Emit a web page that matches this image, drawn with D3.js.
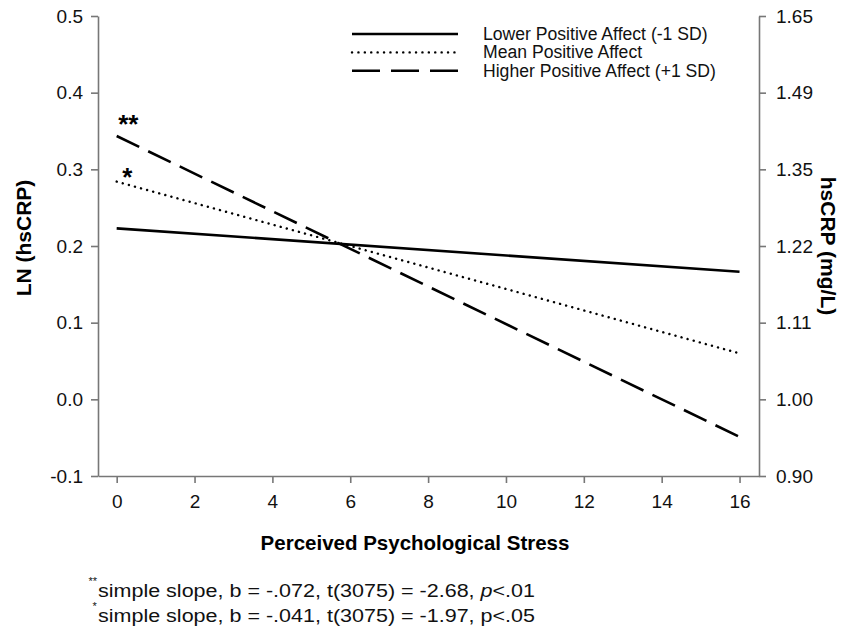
<!DOCTYPE html>
<html>
  <head>
    <style>
      body { margin: 0; background: #fff; }
      svg { font-family: "Liberation Sans", Arial, sans-serif; }
      .axis path, .axis line { stroke: #777; stroke-width: 1.6; }
      .axis text { fill: #111; }
    </style>
  </head>
  <body>
    <svg></svg>
    <script src="https://d3js.org/d3.v7.min.js"></script>
    <script type="text/javascript">

      // stress values at the two ends of each simple-slope line
      var stress = [0, 16]
      var lowerPA = [0.223, 0.1665]
      var meanPA = [0.284, 0.060]
      var higherPA = [0.3435, -0.049]

      var seriesNames = ["Lower Positive Affect (-1 SD)", "Mean Positive Affect", "Higher Positive Affect (+1 SD)"]
      var xTicks = [0, 2, 4, 6, 8, 10, 12, 14, 16]
      var yTicks = [-0.1, 0, 0.1, 0.2, 0.3, 0.4, 0.5]

      // significance marks, placed at (stress, LN value) of the glyph centre
      var marks = [
        { label: "**", x: 0.30, y: 0.367 },
        { label: "*", x: 0.27, y: 0.298 }
      ]
      var notes = [
        { star: "**", text: "simple slope, b = -.072, t(3075) = -2.68, ", p: "p", tail: "<.01", italic: true },
        { star: "*", text: "simple slope, b = -.041, t(3075) = -1.97, ", p: "p", tail: "<.05", italic: false }
      ]

      var svgWidth = 842, svgHeight = 631
      var margin = { top: 16, right: 83, bottom: 155, left: 98 }
      var width = svgWidth - margin.left - margin.right
      var height = svgHeight - margin.top - margin.bottom

      var svg = d3.select("svg")
        .attr("width", svgWidth)
        .attr("height", svgHeight)

      var g = svg.append("g")
        .attr("transform", "translate(" + margin.left + "," + margin.top + ")")

      var x = d3.scaleLinear().domain([-0.48, 16.5]).range([0, width])
      var y = d3.scaleLinear().domain([-0.1, 0.5]).range([height, 0])

      g.append("g")
        .attr("class", "axis")
        .attr("transform", "translate(0," + height + ")")
        .call(d3.axisBottom(x).tickValues(xTicks).tickSize(7).tickSizeOuter(0).tickPadding(12))

      g.append("g")
        .attr("class", "axis")
        .call(d3.axisLeft(y).tickValues(yTicks).tickSize(7).tickSizeOuter(0).tickPadding(8)
          .tickFormat(d => d.toFixed(1)))

      // right axis: same scale, shown back on the mg/L scale
      g.append("g")
        .attr("class", "axis")
        .attr("transform", "translate(" + width + ",0)")
        .call(d3.axisRight(y).tickValues(yTicks).tickSize(7).tickSizeOuter(0).tickPadding(10)
          .tickFormat(d => Math.exp(d).toFixed(2)))

      g.selectAll(".axis")
        .attr("font-family", "Liberation Sans, Arial, sans-serif")
        .attr("font-size", 19)

      var line = d3.line()
        .x((d, i) => x(stress[i]))
        .y(d => y(d))

      var styles = [
        { data: lowerPA, dash: null, width: 2.6, cap: "butt" },
        { data: meanPA, dash: "0.1 6.2", width: 2.4, cap: "round" },
        { data: higherPA, dash: "25 10", width: 2.6, cap: "butt" }
      ]

      styles.forEach(s => {
        g.append("path")
          .attr("d", line(s.data))
          .attr("fill", "none")
          .attr("stroke", "#000")
          .attr("stroke-width", s.width)
          .attr("stroke-linecap", s.cap)
          .attr("stroke-dasharray", s.dash)
      })

      g.selectAll(".mark")
        .data(marks)
        .join("text")
        .attr("class", "mark")
        .attr("x", d => x(d.x))
        .attr("y", d => y(d.y) + 26 * 0.57)
        .attr("text-anchor", "middle")
        .attr("font-size", 26)
        .attr("font-weight", "bold")
        .text(d => d.label)

      // legend
      var legend = svg.append("g").attr("transform", "translate(352,34)")
      var dashes = [null, "0.1 6.3", "28 11"]
      seriesNames.forEach((name, i) => {
        legend.append("line")
          .attr("x1", 0).attr("x2", 106)
          .attr("y1", i * 18.4).attr("y2", i * 18.4)
          .attr("stroke", "#000")
          .attr("stroke-width", styles[i].width)
          .attr("stroke-linecap", styles[i].cap)
          .attr("stroke-dasharray", dashes[i])
        legend.append("text")
          .attr("x", 131)
          .attr("y", i * 18.4 + 6)
          .attr("font-size", 17.6)
          .attr("fill", "#111")
          .text(name)
      })

      // axis titles
      svg.append("text")
        .attr("transform", "translate(31,238) rotate(-90)")
        .attr("text-anchor", "middle")
        .attr("font-size", 21)
        .attr("font-weight", "bold")
        .text("LN (hsCRP)")

      svg.append("text")
        .attr("transform", "translate(821,246) rotate(90)")
        .attr("text-anchor", "middle")
        .attr("font-size", 21)
        .attr("font-weight", "bold")
        .text("hsCRP (mg/L)")

      svg.append("text")
        .attr("x", 415)
        .attr("y", 550)
        .attr("text-anchor", "middle")
        .attr("font-size", 20.5)
        .attr("font-weight", "bold")
        .text("Perceived Psychological Stress")

      // footnotes
      notes.forEach((n, i) => {
        var by = 597 + i * 24.5
        svg.append("text")
          .attr("x", n.star.length > 1 ? 88.5 : 92.5)
          .attr("y", by - 12)
          .attr("font-size", 11)
          .attr("fill", "#111")
          .text(n.star)
        var t = svg.append("text")
          .attr("x", 98)
          .attr("y", by)
          .attr("font-size", 17.5)
          .attr("fill", "#111")
          .attr("textLength", 437)
          .attr("lengthAdjust", "spacingAndGlyphs")
        t.append("tspan").text(n.text)
        t.append("tspan").attr("font-style", n.italic ? "italic" : "normal").text(n.p)
        t.append("tspan").text(n.tail)
      })
    </script>
  </body>
</html>
